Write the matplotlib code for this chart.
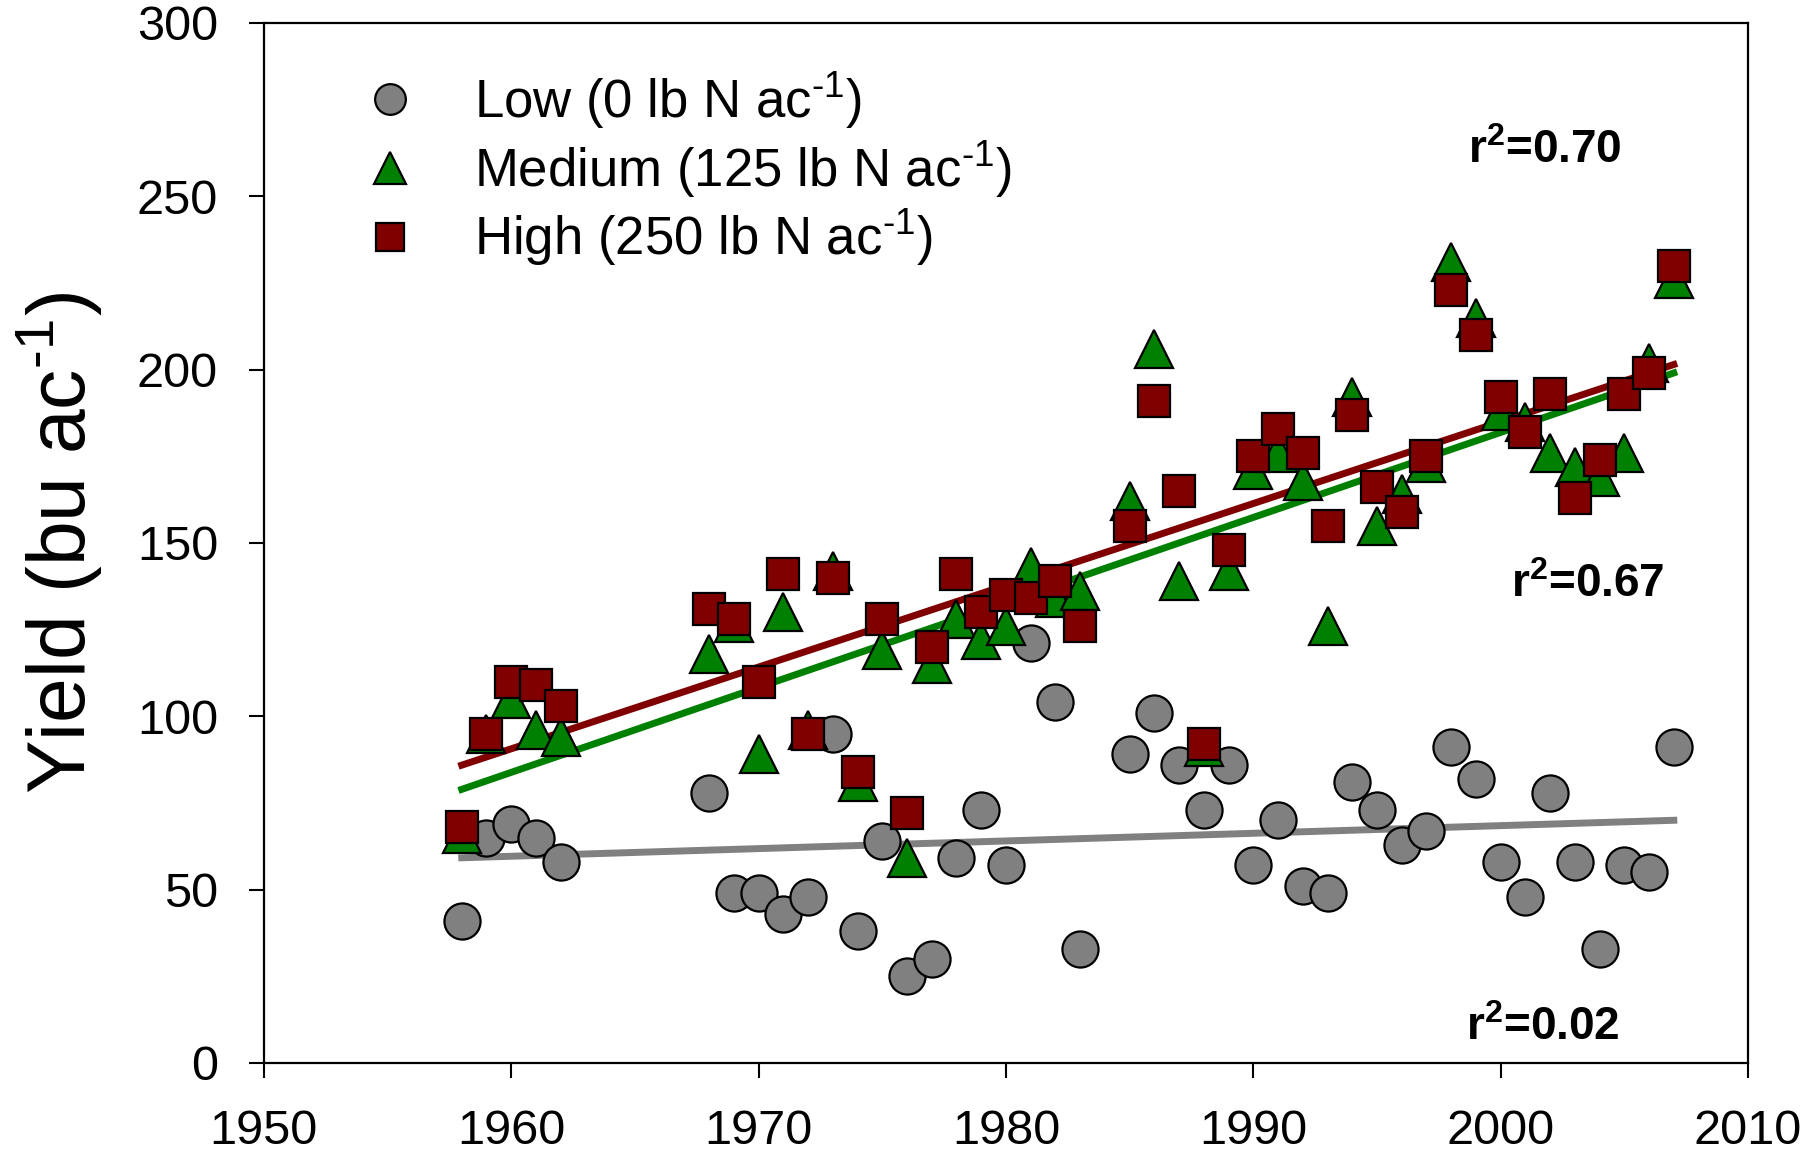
"""
Corn yield vs. year at three N rates, with linear trend lines.
"""
import matplotlib
matplotlib.use('Agg')
import matplotlib.pyplot as plt
import numpy as np

plt.rcParams['font.family'] = ['Liberation Sans', 'DejaVu Sans']
plt.rcParams['mathtext.fontset'] = 'custom'
plt.rcParams['mathtext.rm'] = 'Liberation Sans'
plt.rcParams['mathtext.it'] = 'Liberation Sans:italic'
plt.rcParams['mathtext.bf'] = 'Liberation Sans:bold'

# 数据
years = [1958, 1959, 1960, 1961, 1962, 1968, 1969, 1970, 1971, 1972,
         1973, 1974, 1975, 1976, 1977, 1978, 1979, 1980, 1981, 1982,
         1983, 1985, 1986, 1987, 1988, 1989, 1990, 1991, 1992, 1993,
         1994, 1995, 1996, 1997, 1998, 1999, 2000, 2001, 2002, 2003,
         2004, 2005, 2006, 2007]
low = [41, 65, 69, 65, 58, 78, 49, 49, 43, 48,
       95, 38, 64, 25, 30, 59, 73, 57, 121, 104,
       33, 89, 101, 86, 73, 86, 57, 70, 51, 49,
       81, 73, 63, 67, 91, 82, 58, 48, 78, 58,
       33, 57, 55, 91]
medium = [66, 95, 105, 96, 94, 118, 127, 89, 130, 96,
          142, 81, 119, 59, 115, 128, 122, 126, 143, 134,
          136, 162, 206, 139, 91, 142, 171, 176, 168, 126,
          192, 155, 164, 173, 231, 215, 188, 185, 176, 172,
          169, 176, 202, 226]
high = [68, 95, 110, 109, 103, 131, 128, 110, 141, 95,
        140, 84, 128, 72, 120, 141, 130, 135, 134, 139,
        126, 155, 191, 165, 92, 148, 175, 183, 176, 155,
        187, 166, 159, 175, 223, 210, 192, 182, 193, 163,
        174, 193, 199, 230]

labels = ['Low (0 lb N ac$^{\\text{-1}}$)', 'Medium (125 lb N ac$^{\\text{-1}}$)',
          'High (250 lb N ac$^{\\text{-1}}$)']
r2_text = ['r$^\\mathbf{2}$=0.02', 'r$^\\mathbf{2}$=0.67', 'r$^\\mathbf{2}$=0.70']
r2_pos = [(2001.7, 10), (2003.5, 138), (2001.8, 263)]

colors = ['#808080', '#008000', '#800000']
markers = ['o', '^', 's']
sizes = [26, 27, 23]

fig = plt.figure(figsize=(18.06, 11.53), dpi=100)
ax = fig.add_axes([0.1461, 0.0781, 0.8218, 0.9020])

x = np.array(years)
for ys, c, m, ms, lab in zip([low, medium, high], colors, markers, sizes, labels):
    ys = np.array(ys)
    k, b = np.polyfit(x, ys, 1)
    xx = np.array([x.min(), x.max()])
    ax.plot(xx, k * xx + b, '-', color=c, linewidth=5, zorder=2)
    ax.plot(x, ys, linestyle='none', marker=m, markersize=ms, markerfacecolor=c,
            markeredgecolor='black', markeredgewidth=1.6, label=lab, zorder=3)

for t, (px, py) in zip(r2_text, r2_pos):
    ax.text(px, py, t, fontsize=33, fontweight='bold', ha='center', va='center')

ax.set_xlim(1950, 2010)
ax.set_ylim(0, 300)
ax.set_xticks(np.arange(1950, 2011, 10))
ax.set_yticks(np.arange(0, 301, 50))
ax.tick_params(direction='out', length=11, width=1.5, labelsize=35, pad=22)
for s in ax.spines.values():
    s.set_linewidth(1.6)
ax.set_ylabel('Yield (bu ac$^{\\text{-1}}$)', fontsize=58)
ax.yaxis.set_label_coords(-0.108, 0.5)

ax.legend(loc='upper left', frameon=False, fontsize=38, markerscale=0.85,
          handletextpad=0.6, borderaxespad=0.3, labelspacing=0.15,
          bbox_to_anchor=(0.0245, 0.99))

fig.savefig('out.png', dpi=100)
